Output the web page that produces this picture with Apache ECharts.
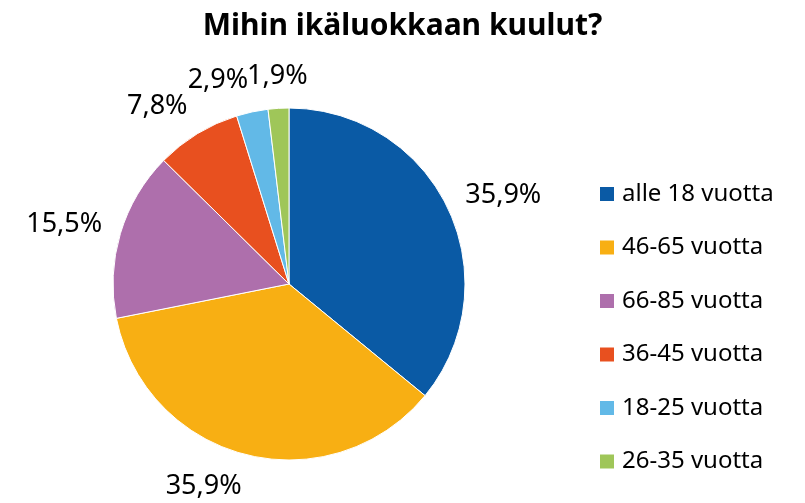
<!DOCTYPE html>
<html lang="fi">

<head>
    <meta charset="UTF-8">
    <title>Mihin ikäluokkaan kuulut?</title>
    <script src="https://cdn.jsdelivr.net/npm/echarts@6/dist/echarts.min.js"></script>
    <style>
        html, body { margin: 0; padding: 0; background: #fff; }
        #chart { width: 805px; height: 503px; }
    </style>
</head>

<body>
    <div id="chart"></div>
    <script>
        var categories = ['alle 18 vuotta', '46-65 vuotta', '66-85 vuotta', '36-45 vuotta', '18-25 vuotta', '26-35 vuotta'];
        var values = [35.9, 35.9, 15.5, 7.8, 2.9, 1.9];
        var colors = ['#0A5AA5', '#F8AF13', '#AE6FAC', '#E8501F', '#62B9E7', '#9FC659'];

        var center = [289, 284];
        var radius = 176;
        var labelGap = 19;

        var data = categories.map(function (name, i) {
            return { name: name, value: values[i] };
        });

        // mid angle of each slice, clockwise from 12 o'clock
        var total = values.reduce(function (a, b) { return a + b; }, 0);
        var midAngles = [];
        var cum = 0;
        values.forEach(function (v) {
            midAngles.push((cum + v / 2) / total * Math.PI * 2);
            cum += v;
        });

        // Excel-like "outside end" labels: the box's nearest edge sits just off the rim
        function placeLabel(params) {
            var a = midAngles[params.dataIndex];
            var dx = Math.sin(a), dy = -Math.cos(a);
            var px = center[0] + (radius + labelGap) * dx;
            var py = center[1] + (radius + labelGap) * dy;
            var h = params.labelRect.height;
            var align = Math.abs(dx) < 0.1 ? 'center' : (dx > 0 ? 'left' : 'right');
            return {
                x: px,
                y: py + h / 2 * dy,
                align: align,
                verticalAlign: 'middle'
            };
        }

        var chart = echarts.init(document.getElementById('chart'));
        chart.setOption({
            animation: false,
            color: colors,
            title: {
                text: 'Mihin ikäluokkaan kuulut?',
                left: 'center',
                top: 6,
                textStyle: {
                    fontFamily: 'Noto Sans',
                    fontWeight: 'bold',
                    fontSize: 30,
                    color: '#000'
                }
            },
            legend: {
                orient: 'vertical',
                left: 593,
                top: 177,
                icon: 'rect',
                itemWidth: 16,
                itemHeight: 16,
                itemGap: 29.5,
                textStyle: {
                    fontFamily: 'Noto Sans',
                    fontSize: 24,
                    color: '#000',
                    padding: [0, 0, 0, 2]
                },
                data: categories
            },
            series: [{
                type: 'pie',
                center: center,
                radius: radius,
                startAngle: 90,
                clockwise: true,
                avoidLabelOverlap: false,
                itemStyle: {
                    borderColor: '#fff',
                    borderWidth: 1
                },
                label: {
                    show: true,
                    position: 'outside',
                    fontFamily: 'Noto Sans',
                    fontSize: 27,
                    color: '#000',
                    formatter: function (p) {
                        return p.value.toFixed(1).replace('.', ',') + '%';
                    }
                },
                labelLine: {
                    show: false
                },
                labelLayout: placeLabel,
                data: data
            }]
        });
    </script>
</body>

</html>
